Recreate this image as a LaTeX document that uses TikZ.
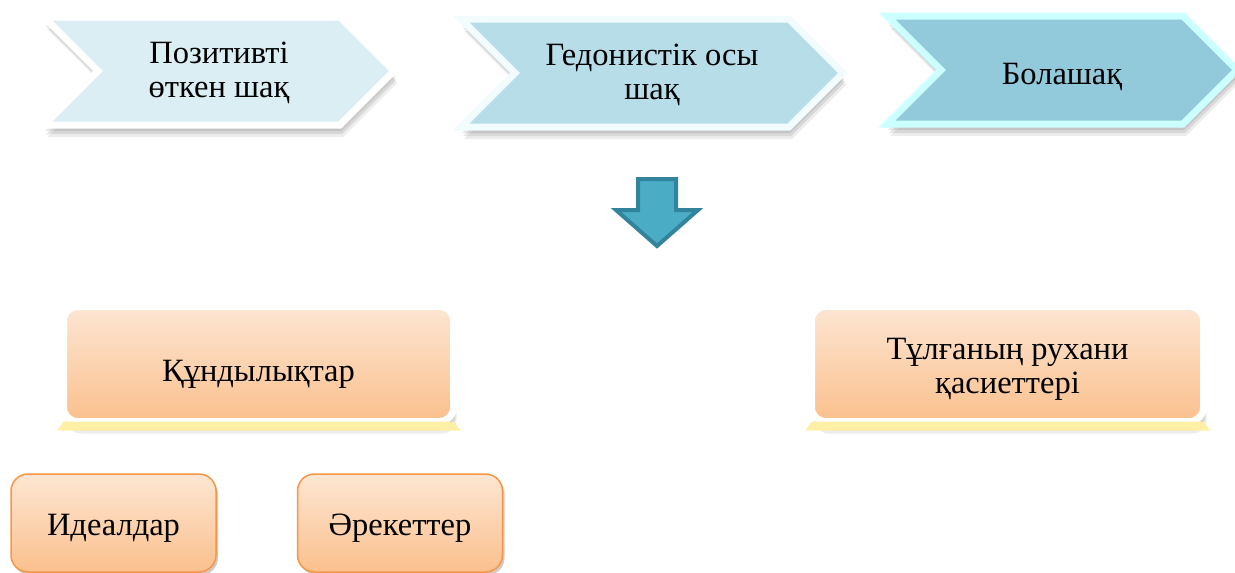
\documentclass[tikz,border=0pt]{standalone}
\usepackage{fontspec}
\setmainfont{Liberation Serif}
\usetikzlibrary{shapes.symbols,shadows}

\definecolor{pastfill}{HTML}{DAEEF3}
\definecolor{nowfill}{HTML}{B7DEE8}
\definecolor{nowedge}{HTML}{F2FBFD}
\definecolor{futfill}{HTML}{92CADB}
\definecolor{futedge}{HTML}{CCFFFF}
\definecolor{arrowfill}{HTML}{4BACC6}
\definecolor{arrowedge}{HTML}{31849B}
\definecolor{peachtop}{HTML}{FDE6D3}
\definecolor{peachbot}{HTML}{FBC08D}
\definecolor{peachedge}{HTML}{F79646}
\definecolor{stripfill}{HTML}{FFF0A6}

\tikzset{
    softshadow/.style={
        drop shadow={shadow xshift=0pt, shadow yshift=-3pt, opacity=0.09, fill=black},
        drop shadow={shadow xshift=1pt, shadow yshift=-6pt, opacity=0.09, fill=black},
        drop shadow={shadow xshift=2pt, shadow yshift=-9pt, opacity=0.09, fill=black},
        drop shadow={shadow xshift=3pt, shadow yshift=-12pt, opacity=0.07, fill=black}},
    chev/.style={signal, signal to=east, signal from=west, signal pointer angle=90,
        minimum height=108, line width=7, align=center, text height=58.5,
        font=\fontsize{32.5}{34}\selectfont, softshadow},
    topbox/.style={rectangle, rounded corners=14, draw=white, line width=7,
        top color=peachtop, bottom color=peachbot, minimum height=115,
        align=center, font=\fontsize{32.5}{34}\selectfont, softshadow},
    smallbox/.style={rectangle, rounded corners=17, draw=peachedge, line width=1.5,
        top color=peachtop, bottom color=peachbot, minimum width=205, minimum height=98,
        text height=32, font=\fontsize{32.5}{34}\selectfont,
        drop shadow={shadow xshift=2pt, shadow yshift=-3pt, opacity=0.2, fill=black}}
}

\begin{document}
\begin{tikzpicture}[x=1pt,y=-1pt]
    \useasboundingbox (0,0) rectangle (1235,573);

    % time line
    \node[chev, draw=white, fill=pastfill, minimum width=350] (past) at (219,71) {Позитивті\\өткен шақ};
    \node[chev, draw=nowedge, fill=nowfill, minimum width=382] (now) at (652,73) {Гедонистік осы\\шақ};
    \node[chev, draw=futedge, fill=futfill, minimum width=350, text height=34.5] (future) at (1062,70) {Болашақ};

    % down arrow
    \coordinate (down) at (657,179);
    \draw[arrowedge, fill=arrowfill, line width=4, line join=miter]
        (down) ++(-19,0) -- ++(38,0) -- ++(0,31) -- ++(22,0) -- (657,246)
        -- (616,210) -- ++(22,0) -- cycle;

    % values and qualities
    \node[topbox, minimum width=390, text height=41] (values) at (258.5,364) {Құндылықтар};
    \node[topbox, minimum width=392, text height=65] (qualities) at (1007.5,364) {Тұлғаның рухани\\қасиеттері};
    \fill[stripfill] ([shift={(3.5,-3.5)}]values.south west) -- ([shift={(-3.5,-3.5)}]values.south east)
        -- ([shift={(3.5,5.5)}]values.south east) -- ([shift={(-2.5,5.5)}]values.south west) -- cycle;
    \fill[stripfill] ([shift={(3.5,-3.5)}]qualities.south west) -- ([shift={(-3.5,-3.5)}]qualities.south east)
        -- ([shift={(3.5,5.5)}]qualities.south east) -- ([shift={(-2.5,5.5)}]qualities.south west) -- cycle;

    \node[smallbox] (ideals) at (113.5,523) {Идеалдар};
    \node[smallbox] (actions) at (400,523) {Әрекеттер};
\end{tikzpicture}
\end{document}
